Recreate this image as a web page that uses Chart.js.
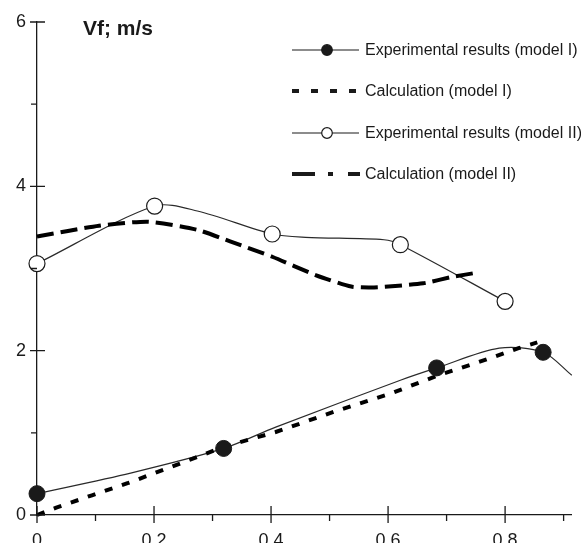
<!DOCTYPE html>
<html>
<head>
<meta charset="utf-8">
<script src="https://cdn.jsdelivr.net/npm/chart.js@4/dist/chart.umd.min.js"></script>
<style>
html,body{margin:0;padding:0;background:#fff;overflow:hidden;}
canvas{display:block;}
</style>
</head>
<body>
<canvas id="c" width="581" height="560"></canvas>
<script>
// ---- data ----
const titleText = "Vf; m/s";
const legendLabels = ["Experimental results (model I)", "Calculation (model I)", "Experimental results (model II)", "Calculation (model II)"];

// measured points (markers)
const expI_x = [0, 0.319, 0.683, 0.865];
const expI_y = [0.26, 0.81, 1.79, 1.98];
const expII_x = [0, 0.201, 0.402, 0.621, 0.80];
const expII_y = [3.06, 3.76, 3.42, 3.29, 2.60];

// smooth curves through the measured points, as traced
const expICurve_x = [0, 0.16, 0.319, 0.408, 0.621, 0.683, 0.79, 0.865, 0.914];
const expICurve_y = [0.26, 0.51, 0.81, 1.07, 1.64, 1.79, 2.03, 1.98, 1.70];
const expIICurve_x = [0, 0.201, 0.274, 0.402, 0.459, 0.593, 0.621, 0.80];
const expIICurve_y = [3.06, 3.76, 3.70, 3.42, 3.38, 3.35, 3.29, 2.60];

// calculations
const calcI_x = [0, 0.033, 0.094, 0.156, 0.246, 0.319, 0.408, 0.509, 0.605, 0.686, 0.767, 0.823, 0.855];
const calcI_y = [0.0, 0.09, 0.24, 0.39, 0.63, 0.83, 1.01, 1.26, 1.48, 1.70, 1.89, 2.03, 2.10];
const calcII_x = [0, 0.106, 0.19, 0.274, 0.33, 0.403, 0.476, 0.537, 0.576, 0.66, 0.711, 0.753];
const calcII_y = [3.39, 3.52, 3.57, 3.47, 3.33, 3.14, 2.92, 2.78, 2.77, 2.82, 2.90, 2.95];

// axis ticks
const xMajorTicks = [0, 0.2, 0.4, 0.6, 0.8];
const xMinorTicks = [0.1, 0.3, 0.5, 0.7, 0.9];
const yMajorTicks = [0, 2, 4, 6];
const yMinorTicks = [1, 3, 5];

const pts = (xs, ys) => xs.map((x, i) => ({x: x, y: ys[i]}));

const INK = '#1a1a1a';

const decorPlugin = {
  id: 'decor',
  afterDraw(chart) {
    const ctx = chart.ctx;
    const xs = chart.scales.x, ys = chart.scales.y;
    const ax = xs.getPixelForValue(0), ay = ys.getPixelForValue(0);
    ctx.save();
    ctx.strokeStyle = INK;
    ctx.lineWidth = 1.3;
    ctx.beginPath();
    xMajorTicks.forEach(v => { const p = xs.getPixelForValue(v); ctx.moveTo(p, ay - 9); ctx.lineTo(p, ay + 8); });
    xMinorTicks.forEach(v => { const p = xs.getPixelForValue(v); ctx.moveTo(p, ay); ctx.lineTo(p, ay + 6); });
    yMajorTicks.forEach(v => { const p = ys.getPixelForValue(v); ctx.moveTo(ax - 7, p); ctx.lineTo(ax + 8, p); });
    yMinorTicks.forEach(v => { const p = ys.getPixelForValue(v); ctx.moveTo(ax - 6, p); ctx.lineTo(ax, p); });
    ctx.stroke();

    // title
    ctx.fillStyle = INK;
    ctx.font = 'bold 21px "Liberation Sans", Arial, sans-serif';
    ctx.textBaseline = 'alphabetic';
    ctx.textAlign = 'left';
    ctx.fillText(titleText, 83, 35);

    // legend
    const rows = [50, 91, 133, 174];
    const x0 = 292, x1 = 359;
    ctx.font = '16px "Liberation Sans", Arial, sans-serif';
    ctx.textBaseline = 'middle';
    rows.forEach((y, i) => {
      ctx.save();
      ctx.strokeStyle = INK;
      if (i === 0 || i === 2) {
        ctx.lineWidth = 1.2;
        ctx.beginPath(); ctx.moveTo(x0, y); ctx.lineTo(x1, y); ctx.stroke();
        ctx.beginPath(); ctx.arc(327, y, 5.3, 0, Math.PI * 2);
        ctx.fillStyle = i === 0 ? INK : '#fff';
        ctx.fill(); ctx.stroke();
      } else if (i === 1) {
        ctx.lineWidth = 4;
        ctx.setLineDash([7, 12]);
        ctx.beginPath(); ctx.moveTo(x0, y); ctx.lineTo(x1, y); ctx.stroke();
      } else {
        ctx.lineWidth = 4;
        ctx.setLineDash([23, 13, 5, 15]);
        ctx.beginPath(); ctx.moveTo(x0, y); ctx.lineTo(x1 + 1, y); ctx.stroke();
      }
      ctx.restore();
      ctx.fillStyle = INK;
      ctx.fillText(legendLabels[i], 365, y + 1);
    });
    ctx.restore();
  }
};

new Chart(document.getElementById('c'), {
  type: 'line',
  data: {
    datasets: [
      { data: pts(expI_x, expI_y), showLine: false, pointRadius: 8, pointBackgroundColor: INK, pointBorderColor: INK, borderWidth: 1, clip: false, order: 0 },
      { data: pts(expII_x, expII_y), showLine: false, pointRadius: 8, pointBackgroundColor: '#fff', pointBorderColor: INK, pointBorderWidth: 1.2, clip: false, order: 0 },
      { data: pts(expICurve_x, expICurve_y), borderColor: '#2a2a2a', borderWidth: 1.2, pointRadius: 0, tension: 0.3, clip: false, order: 2 },
      { data: pts(expIICurve_x, expIICurve_y), borderColor: '#2a2a2a', borderWidth: 1.2, pointRadius: 0, tension: 0.3, clip: false, order: 2 },
      { data: pts(calcI_x, calcI_y), borderColor: '#000', borderWidth: 4, borderDash: [8, 10], pointRadius: 0, tension: 0, clip: false, order: 1 },
      { data: pts(calcII_x, calcII_y), borderColor: '#000', borderWidth: 4, borderDash: [17, 7], pointRadius: 0, tension: 0.2, clip: false, order: 1 }
    ]
  },
  options: {
    responsive: false,
    animation: false,
    devicePixelRatio: 1,
    layout: { padding: { top: 22, left: 0, right: 0, bottom: 0 } },
    plugins: { legend: { display: false }, tooltip: { enabled: false }, title: { display: false } },
    scales: {
      x: {
        type: 'linear', min: 0, max: 0.914,
        grid: { display: false, drawTicks: false },
        border: { display: true, color: INK, width: 1.3 },
        ticks: { stepSize: 0.2, includeBounds: false, padding: 15, color: INK, font: { family: '"Liberation Sans", Arial, sans-serif', size: 18 } },
        afterFit(s) { s.height = 45; }
      },
      y: {
        type: 'linear', min: 0, max: 6,
        grid: { display: false, drawTicks: false },
        border: { display: true, color: INK, width: 1.3 },
        ticks: { stepSize: 2, includeBounds: false, padding: 11, color: INK, font: { family: '"Liberation Sans", Arial, sans-serif', size: 18 } },
        afterFit(s) { s.width = 37; }
      }
    }
  },
  plugins: [decorPlugin]
});
</script>
</body>
</html>
